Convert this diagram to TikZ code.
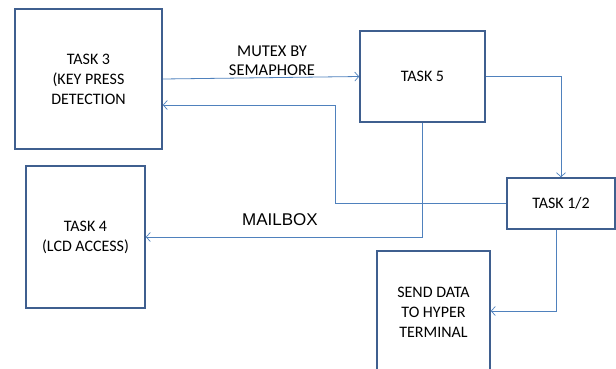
\documentclass[tikz,border=0pt]{standalone}
\usepackage{fontspec}
\setmainfont{Carlito}
\newfontfamily\labelfont{Liberation Sans}
\usetikzlibrary{arrows.meta}
\definecolor{boxline}{HTML}{3F5F8F}
\definecolor{wire}{HTML}{4F81BD}
\tikzset{
  taskbox/.style={draw=boxline, line width=1.6pt, fill=white, inner sep=0pt,
    align=center, font=\fontsize{16}{20}\selectfont},
  wireline/.style={draw=wire, line width=0.8pt,
    -{Straight Barb[length=4pt,width=9pt,line width=0.7pt]}},
  wirelabel/.style={align=center, font=\fontsize{16.5}{19}\selectfont}
}
\begin{document}
\begin{tikzpicture}[x=1pt,y=-1pt]
\useasboundingbox (0,0) rectangle (616,368);
\clip (0,0) rectangle (616,368);

% task boxes
\node[taskbox, minimum width=147pt, minimum height=140pt] (t3) at (88.5,79)
  {TASK 3\\ (KEY PRESS\\DETECTION};
\node[taskbox, minimum width=119pt, minimum height=142pt] (t4) at (85.5,237)
  {TASK 4\\(LCD ACCESS)};
\node[taskbox, minimum width=125pt, minimum height=91pt] (t5) at (422.5,76.5)
  {TASK 5};
\node[taskbox, minimum width=108pt, minimum height=51pt] (t12) at (561,203.5)
  {TASK 1/2};
\node[taskbox, minimum width=113pt, minimum height=122pt] (send) at (433.5,312)
  {SEND DATA\\TO HYPER\\TERMINAL};

% connectors
\draw[wireline] (t3.east) -- (t5.west);
\draw[wireline] (t5.east) -| (t12.north);
\draw[wireline] (t12.west) -- (335,203.5) |- ([yshift=-26pt]t3.east);
\draw[wireline] (t5.south) |- (t4.east);
\draw[wireline] ([xshift=-5pt]t12.south) |- ([yshift=1pt]send.east);

% connector labels
\node[wirelabel] (mutex) at (272,61) {MUTEX BY\\SEMAPHORE};
\node[font=\labelfont\fontsize{17}{20}\selectfont] (mailbox) at (280,220) {MAILBOX};
\end{tikzpicture}
\end{document}
